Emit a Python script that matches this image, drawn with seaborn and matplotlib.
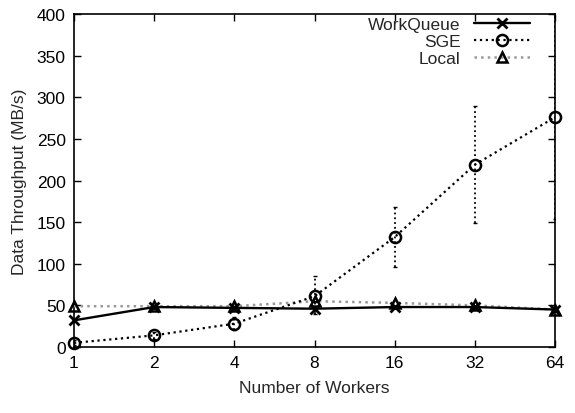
import matplotlib
matplotlib.use("Agg")
import matplotlib.pyplot as plt
from matplotlib.lines import Line2D
import seaborn as sns
import pandas as pd
import numpy as np

workers = [1, 2, 4, 8, 16, 32, 64]
workqueue = [32, 48, 47, 46, 48, 48, 45]
sge = [5, 14, 28, 61, 132, 219, 276]
sge_low = [2, 10, 20, 40, 96, 149, 154]
sge_high = [8, 18, 36, 85, 168, 289, 400]
local = [49, 49, 49, 55, 53, 50, 45]

sns.set_style("ticks")
plt.rcParams['font.family'] = ['Liberation Sans', 'DejaVu Sans']
FS = 12.5
plt.rcParams['font.size'] = FS

fig = plt.figure(figsize=(5.75, 4.14), dpi=100)
ax = fig.add_axes([74/575, 66/414, (555-74)/575, (348-15)/414])

df = pd.DataFrame({"workers": workers, "WorkQueue": workqueue, "SGE": sge, "Local": local})

sge_arr = np.array(sge)
ax.errorbar(workers, sge, yerr=[sge_arr - np.array(sge_low), np.array(sge_high) - sge_arr],
            fmt='none', ecolor='black', elinewidth=1.3, capsize=1.5, capthick=1.0, zorder=2)
for coll in ax.collections:
    coll.set_linestyle(':')

sns.lineplot(data=df, x="workers", y="Local", ax=ax, color="#999999", linestyle=":",
             linewidth=1.8, marker="^", markersize=7.5, markeredgecolor="black",
             markerfacecolor="none", markeredgewidth=1.8, zorder=3, clip_on=False)
sns.lineplot(data=df, x="workers", y="SGE", ax=ax, color="black", linestyle=":",
             linewidth=1.6, marker="o", markersize=8, markeredgecolor="black",
             markerfacecolor="none", markeredgewidth=1.8, zorder=4, clip_on=False)
sns.lineplot(data=df, x="workers", y="WorkQueue", ax=ax, color="black", linestyle="-",
             linewidth=1.7, marker="x", markersize=7.5, markeredgecolor="black",
             markeredgewidth=2.0, zorder=5, clip_on=False)

ax.set_xscale('log', base=2)
ax.set_xlim(1, 64)
ax.set_ylim(0, 400)
ax.set_xticks(workers)
ax.set_xticklabels([str(w) for w in workers])
ax.minorticks_off()
ax.set_yticks(range(0, 401, 50))
ax.tick_params(direction='in', top=True, right=True, length=5, width=1, colors='black', labelsize=FS, pad=6)
for s in ax.spines.values():
    s.set_visible(True)
    s.set_linewidth(1.2)
    s.set_color('black')
ax.set_xlabel("Number of Workers", fontsize=FS, labelpad=7)
ax.set_ylabel("Data Throughput (MB/s)", fontsize=FS, labelpad=7)

handles = [
    Line2D([], [], color='black', linestyle='-', linewidth=1.7, marker='x', markersize=7.5, markeredgewidth=2.0),
    Line2D([], [], color='black', linestyle=':', linewidth=1.6, marker='o', markersize=8, markerfacecolor='none', markeredgewidth=1.8),
    Line2D([], [], color='#999999', linestyle=':', linewidth=1.8, marker='^', markersize=7.5, markerfacecolor='none', markeredgecolor='black', markeredgewidth=1.8),
]
ax.legend(handles, ["WorkQueue", "SGE", "Local"], loc='upper right', markerfirst=False,
          bbox_to_anchor=((530 - 74) / 481, 1.0 - 3 / 333),
          frameon=False, fontsize=FS, handlelength=3.2, labelspacing=0.1,
          borderaxespad=0.0, handletextpad=0.8, borderpad=0.0)

fig.savefig("out.png", dpi=100)
